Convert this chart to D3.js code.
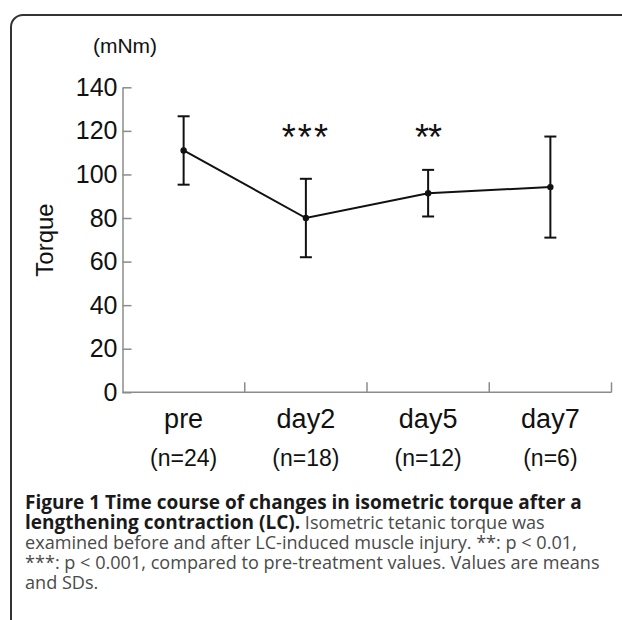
<!DOCTYPE html>
<html>
<head>
<meta charset="utf-8">
<script src="https://cdn.jsdelivr.net/npm/d3@7"></script>
<style>
  body { margin: 0; background: #fff; }
  svg { display: block; }
</style>
</head>
<body>
<svg id="chart"></svg>
<script>
"use strict";

// Time points on the x axis
const categories = ["pre", "day2", "day5", "day7"];

// Group sizes written under each time point
const sampleSizes = ["(n=24)", "(n=18)", "(n=12)", "(n=6)"];

// Mean torque (mNm)
const means = [111, 80, 91.4, 94.2];

// Standard deviations
const sds = [15.7, 18, 10.7, 23.2];

// Significance marks versus pre
const significance = ["", "***", "**", ""];

// Y axis ticks
const yTicks = [0, 20, 40, 60, 80, 100, 120, 140];

// Caption lines: [bold part, regular part]
const captionLines = [
    ["Figure 1 Time course of changes in isometric torque after a", ""],
    ["lengthening contraction (LC).", " Isometric tetanic torque was"],
    ["", "examined before and after LC-induced muscle injury. **: p < 0.01,"],
    ["", "***: p < 0.001, compared to pre-treatment values. Values are means"],
    ["", "and SDs."]
];

const width = 622, height = 620;
const chartFont = "'Liberation Sans', Arial, sans-serif";
const captionFont = "'Open Sans', sans-serif";

const svg = d3.select("#chart")
    .attr("width", width)
    .attr("height", height);

// Figure frame (open to the right and bottom)
svg.append("rect")
    .attr("x", 11)
    .attr("y", 15)
    .attr("width", 700)
    .attr("height", 700)
    .attr("rx", 12)
    .attr("fill", "none")
    .attr("stroke", "#333")
    .attr("stroke-width", 2);

const x = d3.scaleBand()
    .domain(categories)
    .range([122.5, 611.5]);

const y = d3.scaleLinear()
    .domain([0, 140])
    .range([392.3, 87.3]);

const axisColor = "#8c8c8c";

// Y axis, ticks pointing inward
const yAxis = svg.append("g")
    .attr("transform", `translate(${x.range()[0]},0)`)
    .call(d3.axisLeft(y).tickValues(yTicks).tickSizeInner(-9).tickSizeOuter(0).tickPadding(5));
yAxis.select(".domain").attr("stroke", axisColor).attr("stroke-width", 1.5);
yAxis.selectAll(".tick line").attr("stroke", axisColor).attr("stroke-width", 1.5);
yAxis.selectAll(".tick text")
    .attr("fill", "#111")
    .style("font-family", chartFont)
    .style("font-size", "25px");

// X axis line with ticks at the band edges
const xAxis = svg.append("g");
xAxis.append("line")
    .attr("x1", x.range()[0])
    .attr("x2", x.range()[1])
    .attr("y1", y(0))
    .attr("y2", y(0))
    .attr("stroke", axisColor)
    .attr("stroke-width", 1.5);
xAxis.selectAll(".edge")
    .data(categories)
    .join("line")
    .attr("class", "edge")
    .attr("x1", (d) => x(d) + x.bandwidth())
    .attr("x2", (d) => x(d) + x.bandwidth())
    .attr("y1", y(0))
    .attr("y2", y(0) - 10)
    .attr("stroke", axisColor)
    .attr("stroke-width", 1.5);

const centre = (d) => x(d) + x.bandwidth() / 2;

xAxis.selectAll(".cat")
    .data(categories)
    .join("text")
    .attr("class", "cat")
    .attr("x", (d) => centre(d))
    .attr("y", y(0) + 36)
    .attr("text-anchor", "middle")
    .attr("fill", "#111")
    .style("font-family", chartFont)
    .style("font-size", "27px")
    .text((d) => d);

xAxis.selectAll(".n")
    .data(categories)
    .join("text")
    .attr("class", "n")
    .attr("x", (d) => centre(d))
    .attr("y", y(0) + 74)
    .attr("text-anchor", "middle")
    .attr("fill", "#111")
    .style("font-family", chartFont)
    .style("font-size", "23px")
    .text((d, i) => sampleSizes[i]);

// Unit and axis title
svg.append("text")
    .attr("x", 125)
    .attr("y", 53)
    .attr("text-anchor", "middle")
    .attr("fill", "#111")
    .style("font-family", chartFont)
    .style("font-size", "21px")
    .text("(mNm)");

svg.append("text")
    .attr("transform", "translate(53,240) rotate(-90)")
    .attr("text-anchor", "middle")
    .attr("fill", "#111")
    .style("font-family", chartFont)
    .style("font-size", "24px")
    .text("Torque");

// Error bars
const bars = svg.append("g")
    .attr("stroke", "#111")
    .attr("stroke-width", 2);
categories.forEach((c, i) => {
    const cx = centre(c),
        top = y(means[i] + sds[i]),
        bottom = y(means[i] - sds[i]);
    bars.append("line").attr("x1", cx).attr("x2", cx).attr("y1", top).attr("y2", bottom);
    bars.append("line").attr("x1", cx - 6).attr("x2", cx + 6).attr("y1", top).attr("y2", top);
    bars.append("line").attr("x1", cx - 6).attr("x2", cx + 6).attr("y1", bottom).attr("y2", bottom);
});

// Mean line and points
svg.append("path")
    .datum(categories)
    .attr("fill", "none")
    .attr("stroke", "#111")
    .attr("stroke-width", 2)
    .attr("d", d3.line()
        .x((d) => centre(d))
        .y((d, i) => y(means[i])));

svg.selectAll(".dot")
    .data(categories)
    .join("circle")
    .attr("class", "dot")
    .attr("cx", (d) => centre(d))
    .attr("cy", (d, i) => y(means[i]))
    .attr("r", 3.2)
    .attr("fill", "#111");

// Significance stars
svg.selectAll(".sig")
    .data(categories)
    .join("text")
    .attr("class", "sig")
    .attr("x", (d) => centre(d))
    .attr("y", y(111))
    .attr("text-anchor", "middle")
    .attr("fill", "#111")
    .style("font-family", chartFont)
    .style("font-size", "36px")
    .style("letter-spacing", (d, i) => significance[i].length === 3 ? "2px" : "-1px")
    .text((d, i) => significance[i]);

// Caption
const caption = svg.append("g")
    .style("font-family", captionFont);
captionLines.forEach((line, i) => {
    const t = caption.append("text")
        .attr("x", 25)
        .attr("y", 509 + i * 20);
    if (line[0]) t.append("tspan")
        .attr("font-weight", "bold")
        .attr("fill", "#1a1a1a")
        .style("font-size", "19px")
        .text(line[0]);
    if (line[1]) t.append("tspan")
        .attr("fill", "#4a4a4a")
        .style("font-size", "18.1px")
        .text(line[1]);
});
</script>
</body>
</html>
